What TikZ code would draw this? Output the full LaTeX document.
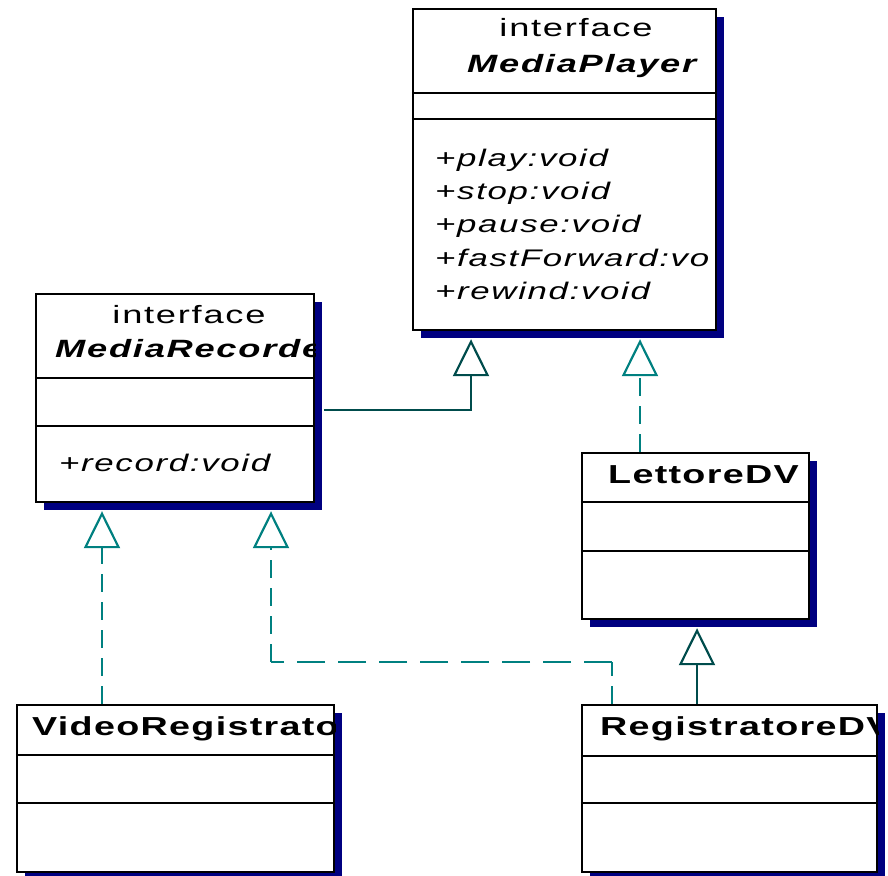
\documentclass[tikz,border=0pt]{standalone}
\usepackage{fontspec}
\setmainfont{Liberation Sans}[FakeStretch=1.45, LetterSpace=7]
\usetikzlibrary{arrows.meta,shadows}

\definecolor{shadownavy}{RGB}{0,0,128}
\definecolor{linkdark}{RGB}{0,76,76}
\definecolor{linkteal}{RGB}{0,128,128}

\tikzset{
  classbox/.style={draw=black, line width=2.4pt, fill=white, inner sep=0pt,
    drop shadow={shadow xshift=8pt, shadow yshift=-8pt, fill=shadownavy, opacity=1}},
  sepline/.style={draw=black, line width=2pt},
  kindtext/.style={anchor=base, inner sep=0pt, font=\fontsize{25}{30}\selectfont},
  nametext/.style={anchor=base west, inner sep=0pt, font=\fontsize{25}{30}\selectfont\bfseries\itshape},
  classtext/.style={anchor=base west, inner sep=0pt,
    font=\fontsize{26}{31}\selectfont\bfseries\addfontfeature{LetterSpace=5}},
  optext/.style={anchor=base west, inner sep=0pt, font=\fontsize{24}{29}\selectfont\itshape},
  gentip/.style={-{Triangle[open, length=37pt, width=36pt]}},
  extends/.style={draw=linkdark, line width=2.2pt, gentip},
  implvert/.style={draw=linkteal, line width=2.2pt, dash pattern=on 18pt off 10pt},
  implhoriz/.style={draw=linkteal, line width=2.2pt, dash pattern=on 28pt off 13pt},
}

\begin{document}
\begin{tikzpicture}[x=1pt, y=-1pt]
\useasboundingbox (0,0) rectangle (888,875);

% class boxes
\node[classbox, minimum width=303pt, minimum height=321pt] (mp) at (564.5,169.5) {};
\node[classbox, minimum width=278pt, minimum height=208pt] (mr) at (175,398) {};
\node[classbox, minimum width=227pt, minimum height=166pt] (ld) at (695.5,536) {};
\node[classbox, minimum width=317pt, minimum height=167pt] (vr) at (175.5,788.5) {};
\node[classbox, minimum width=295pt, minimum height=167pt] (rd) at (729.5,788.5) {};

% compartment separators
\draw[sepline] (mp.west |- 0,93) -- (mp.east |- 0,93);
\draw[sepline] (mp.west |- 0,119) -- (mp.east |- 0,119);
\draw[sepline] (mr.west |- 0,378) -- (mr.east |- 0,378);
\draw[sepline] (mr.west |- 0,426) -- (mr.east |- 0,426);
\draw[sepline] (ld.west |- 0,502) -- (ld.east |- 0,502);
\draw[sepline] (ld.west |- 0,551) -- (ld.east |- 0,551);
\draw[sepline] (vr.west |- 0,755) -- (vr.east |- 0,755);
\draw[sepline] (vr.west |- 0,803) -- (vr.east |- 0,803);
\draw[sepline] (rd.west |- 0,756) -- (rd.east |- 0,756);
\draw[sepline] (rd.west |- 0,803) -- (rd.east |- 0,803);

% MediaPlayer texts
\begin{scope}
  \clip (mp.north west) rectangle (mp.south east);
  \node[kindtext] (mpkind) at (576,37) {interface};
  \node[nametext] (mpname) at (467,73) {MediaPlayer};
  \node[optext] (mpop1) at (435,166) {+play:void};
  \node[optext] (mpop2) at (435,199) {+stop:void};
  \node[optext] (mpop3) at (435,232) {+pause:void};
  \node[optext] (mpop4) at (435,266) {+fastForward:vo};
  \node[optext] (mpop5) at (435,299) {+rewind:void};
\end{scope}

% MediaRecorder texts
\begin{scope}
  \clip (mr.north west) rectangle (mr.south east);
  \node[kindtext] (mrkind) at (189,323) {interface};
  \node[nametext] (mrname) at (55,357) {MediaRecorde};
  \node[optext] (mrop1) at (59,471) {+record:void};
\end{scope}

% concrete classes
\begin{scope}
  \clip (ld.north west) rectangle (ld.south east);
  \node[classtext] (ldname) at (608,483) {LettoreDV};
\end{scope}
\begin{scope}
  \clip (vr.north west) rectangle (vr.south east);
  \node[classtext] (vrname) at (32,735) {VideoRegistrato};
\end{scope}
\begin{scope}
  \clip (rd.north west) rectangle (rd.south east);
  \node[classtext] (rdname) at (600,735) {RegistratoreDV};
\end{scope}

% generalizations
\draw[extends] ([shift={(9,12)}]mr.east) -| ([shift={(-93.5,8)}]mp.south);
\draw[extends] ([shift={(-32.5,0)}]rd.north) -- ([shift={(1.5,8)}]ld.south);

% realizations
\draw[implvert, gentip] ([shift={(-55.5,0)}]ld.north) -- ([shift={(75.5,8)}]mp.south);
\draw[implvert, gentip] ([shift={(-73.5,0)}]vr.north) -- ([shift={(-73,8)}]mr.south);
\coordinate (mrfoot) at ([shift={(96,8)}]mr.south);
\coordinate (rdfoot) at ([shift={(-117.5,0)}]rd.north);
\coordinate (rdbend) at ([shift={(0,-42)}]rdfoot);
\coordinate (mrbend) at (mrfoot |- rdbend);
\draw[implvert] (rdfoot) -- (rdbend);
\draw[implhoriz] (rdbend) -- (mrbend);
\draw[implvert, gentip] (mrbend) -- (mrfoot);
\end{tikzpicture}
\end{document}
